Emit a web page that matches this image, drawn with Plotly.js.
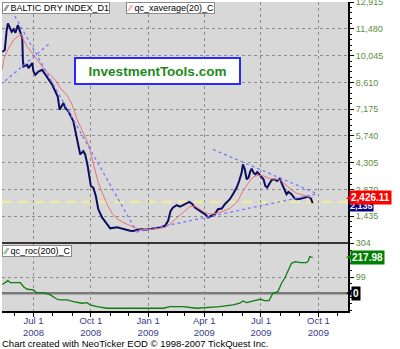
<!DOCTYPE html>
<html>
<head>
<meta charset="utf-8">
<script src="https://cdn.plot.ly/plotly-3.0.1.min.js"></script>
<style>html,body{margin:0;padding:0;background:#fff;}#chart{width:400px;height:349px;}</style>
</head>
<body>
<div id="chart"></div>
<script>
// ---- data ----
const bdiDates = ['2008-05-12','2008-05-16','2008-05-19','2008-05-21','2008-05-23','2008-05-27','2008-05-30','2008-06-02','2008-06-06','2008-06-11','2008-06-13','2008-06-14','2008-06-15','2008-06-21','2008-06-23','2008-06-29','2008-07-01','2008-07-04','2008-07-09','2008-07-15','2008-07-20','2008-07-25','2008-07-31','2008-08-05','2008-08-09','2008-08-12','2008-08-15','2008-08-18','2008-08-21','2008-08-26','2008-09-03','2008-09-09','2008-09-14','2008-09-19','2008-09-22','2008-09-26','2008-09-29','2008-10-01','2008-10-05','2008-10-09','2008-10-13','2008-10-19','2008-10-27','2008-11-01','2008-11-12','2008-11-17','2008-11-28','2008-12-03','2008-12-08','2008-12-19','2008-12-27','2009-01-04','2009-01-12','2009-01-20','2009-01-28','2009-02-02','2009-02-06','2009-02-10','2009-02-16','2009-02-21','2009-02-26','2009-03-04','2009-03-08','2009-03-13','2009-03-17','2009-03-25','2009-04-02','2009-04-07','2009-04-13','2009-04-18','2009-04-23','2009-04-29','2009-05-04','2009-05-12','2009-05-17','2009-05-23','2009-05-27','2009-05-31','2009-06-02','2009-06-05','2009-06-08','2009-06-11','2009-06-14','2009-06-16','2009-06-19','2009-06-22','2009-06-25','2009-06-30','2009-07-05','2009-07-08','2009-07-11','2009-07-14','2009-07-18','2009-07-23','2009-07-27','2009-07-31','2009-08-03','2009-08-07','2009-08-11','2009-08-14','2009-08-19','2009-08-24','2009-08-27','2009-09-04','2009-09-09','2009-09-15','2009-09-19','2009-09-22'];
const bdiVals = [10247,10354,11421,11779,11635,11330,11459,11277,11688,11245,10994,9820,9462,9553,9377,9644,9196,9020,9196,9286,9020,8753,8486,8128,7845,7152,7312,7509,7242,7061,6527,5550,4750,4926,4750,4126,3416,3058,2973,2524,1815,1372,1014,785,838,785,710,656,640,747,710,747,785,838,923,1190,1724,1905,2028,1948,2028,2135,2204,2081,1905,1724,1548,1372,1457,1548,1815,1852,2081,2348,2615,2973,3325,3773,4216,3949,3416,3506,3859,3987,3773,3683,3805,3592,3416,3058,2973,3149,3378,3416,3325,3453,3240,2882,2615,2738,2615,2386,2348,2386,2439,2492,2386,2135];

const avgDates = ['2008-05-12','2008-05-14','2008-05-22','2008-05-30','2008-06-07','2008-06-11','2008-06-15','2008-06-21','2008-06-29','2008-07-09','2008-07-17','2008-07-25','2008-08-05','2008-08-13','2008-08-24','2008-09-01','2008-09-09','2008-09-19','2008-09-27','2008-10-02','2008-10-08','2008-10-13','2008-10-19','2008-10-27','2008-11-04','2008-11-12','2008-11-22','2008-12-03','2008-12-14','2008-12-24','2009-01-04','2009-01-12','2009-01-20','2009-01-28','2009-02-05','2009-02-13','2009-02-21','2009-03-01','2009-03-09','2009-03-17','2009-03-25','2009-04-02','2009-04-10','2009-04-18','2009-04-29','2009-05-12','2009-05-25','2009-06-02','2009-06-11','2009-06-19','2009-06-27','2009-07-05','2009-07-15','2009-07-26','2009-08-03','2009-08-11','2009-08-19','2009-08-27','2009-09-07','2009-09-15','2009-09-22'];
const avgVals = [9286,9820,10445,10887,11101,11208,10887,10530,10178,9729,9377,9110,8753,8310,7925,7418,6618,5908,5284,4659,3949,3240,2706,2081,1601,1308,1094,923,785,710,710,747,785,838,1014,1281,1494,1724,1959,1975,1815,1638,1548,1574,1670,1852,2258,2791,3240,3560,3629,3592,3453,3416,3325,3058,2845,2669,2562,2492,2426.11];

const rocDates = ['2008-05-12','2008-05-21','2008-05-25','2008-06-10','2008-06-15','2008-06-21','2008-07-01','2008-07-06','2008-07-17','2008-07-28','2008-08-08','2008-08-13','2008-08-24','2008-09-03','2008-09-17','2008-09-25','2008-09-30','2008-10-11','2008-10-27','2008-11-12','2008-11-28','2008-12-19','2009-01-09','2009-01-25','2009-02-05','2009-02-26','2009-03-20','2009-04-05','2009-04-26','2009-05-17','2009-05-28','2009-06-02','2009-06-08','2009-06-19','2009-06-30','2009-07-07','2009-07-14','2009-07-20','2009-07-28','2009-08-03','2009-08-08','2009-08-14','2009-08-19','2009-08-25','2009-09-02','2009-09-12','2009-09-15','2009-09-17','2009-09-22'];
const rocVals = [53.5,76.6,64.4,64.4,40.1,24.3,20.1,3.6,3.6,-10.3,-36.5,-40.7,-40.7,-51.1,-60.8,-57.2,-71.1,-81.5,-91.2,-91.2,-95.5,-95.5,-95.5,-91.2,-81.5,-81.5,-91.2,-87.6,-81.5,-71.1,-60.8,-46.8,-57.2,-46.8,-36.5,-45,-45,0,9.7,60.8,91.2,141.7,182.4,192.1,186,186,198.2,222.5,217.98];

// trend lines drawn on the chart (start / end)
const trendDates = [['2008-06-01','2008-12-13'],['2008-05-09','2008-07-27'],['2008-12-13','2009-09-26'],['2009-04-15','2009-09-27']];
const trendVals  = [[12168,640],[8486,10711],[587,2615],[5017,2669]];

const refLevel = 2204;

const xTickVals = ['2008-07-01','2008-10-01','2009-01-01','2009-04-01','2009-07-01','2009-10-01'];
const xTickText = ['Jul 1<br>2008','Oct 1<br>2008','Jan 1<br>2009','Apr 1<br>2009','Jul 1<br>2009','Oct 1<br>2009'];
const yTickVals = [1435,2870,4305,5740,7175,8610,10045,11480,12915];
const yTickText = ['1,435','2,870','4,305','5,740','7,175','8,610','10,045','11,480','12,915'];
const y2TickVals = [99,304];
const y2TickText = ['99','304'];

// ---- layout helpers (pixel -> paper) ----
const L = 2, R = 348, T = 2, B = 311;
const PX = x => (x - L) / (R - L);
const PY = y => (B - y) / (B - T);
const split = PY(243);

const FONT = "Arial, 'Liberation Sans', sans-serif";
const gridC = '#8c8c8c';
const tickGreen = '#5a8f3a';

const traces = [
  {x: bdiDates, y: bdiVals, xaxis:'x', yaxis:'y', mode:'lines', line:{color:'#0c0c62', width:2}},
  {x: avgDates, y: avgVals, xaxis:'x', yaxis:'y', mode:'lines', line:{color:'#f07070', width:1}},
  {x: rocDates, y: rocVals, xaxis:'x', yaxis:'y2', mode:'lines', line:{color:'#0f7d0f', width:1.3}}
];
trendDates.forEach((d,i) => traces.push({x:d, y:trendVals[i], xaxis:'x', yaxis:'y', mode:'lines',
  line:{color:'#7878ff', width:1.3, dash:'dot'}}));

const last = a => a[a.length-1];

const layout = {
  width: 400, height: 349,
  margin: {l: L, r: 400 - R, t: T, b: 349 - B, pad: 0},
  paper_bgcolor: '#ffffff', plot_bgcolor: '#d8d8d8',
  showlegend: false,
  xaxis: {
    type:'date', range:['2008-05-11 12:00','2009-11-17 14:00'], anchor:'y2',
    tickmode:'array', tickvals:xTickVals, ticktext:xTickText,
    tickfont:{family:FONT, size:9.5, color:'#3a3a8e'},
    ticks:'outside', ticklen:4, tickcolor:'#000', ticklabelstandoff:-4,
    showgrid:true, gridcolor:gridC, griddash:'dot', gridwidth:1,
    showline:true, linecolor:'#000', linewidth:1.5, zeroline:false,
    minor:{dtick:'M1', tick0:'2008-05-01', ticks:'outside', ticklen:3, tickcolor:'#000', showgrid:false}
  },
  yaxis: {
    domain:[split, 1], range:[0, 12925], side:'right', anchor:'x',
    tickmode:'array', tickvals:yTickVals, ticktext:yTickText, ticklabeloverflow:'allow',
    tickfont:{family:FONT, size:9, color:tickGreen},
    ticks:'outside', ticklen:4, tickcolor:'#000',
    showgrid:true, gridcolor:gridC, griddash:'dot', gridwidth:1,
    showline:true, linecolor:'#000', linewidth:2, zeroline:false,
    minor:{dtick:287, tick0:0, ticks:'outside', ticklen:2, tickcolor:'#000', showgrid:false}
  },
  yaxis2: {
    domain:[0, split], range:[-108, 306], side:'right', anchor:'x',
    tickmode:'array', tickvals:y2TickVals, ticktext:y2TickText, ticklabeloverflow:'allow',
    tickfont:{family:FONT, size:9, color:tickGreen},
    ticks:'outside', ticklen:4, tickcolor:'#000',
    showgrid:true, gridcolor:gridC, griddash:'dot', gridwidth:1,
    showline:true, linecolor:'#000', linewidth:2, zeroline:false,
    minor:{dtick:41, tick0:99, ticks:'outside', ticklen:2, tickcolor:'#000', showgrid:false}
  },
  shapes: [
    {type:'line', xref:'paper', yref:'y', x0:0, x1:1, y0:refLevel, y1:refLevel, layer:'below',
     line:{color:'#efeba6', width:2.5, dash:'10px,6px'}},
    {type:'line', xref:'paper', yref:'y2', x0:0, x1:1, y0:0, y1:0, layer:'below',
     line:{color:'#7a7a7a', width:2.5}},
    {type:'line', xref:'paper', yref:'paper', x0:0, x1:1, y0:split, y1:split,
     line:{color:'#000', width:1.5}}
  ],
  annotations: [
    {xref:'paper', yref:'paper', x:PX(2), y:PY(2), xanchor:'left', yanchor:'top', showarrow:false,
     text:"<span style='color:#0c0c62'>⁄⁄</span> BALTIC DRY INDEX_D1", font:{family:FONT, size:9, color:'#000'},
     bgcolor:'#fff', bordercolor:'#8a8a8a', borderwidth:1, borderpad:0},
    {xref:'paper', yref:'paper', x:PX(126), y:PY(2), xanchor:'left', yanchor:'top', showarrow:false,
     text:"<span style='color:#f07070'>⁄⁄</span> qc_xaverage(20)_C", font:{family:FONT, size:9, color:'#000'},
     bgcolor:'#fff', bordercolor:'#8a8a8a', borderwidth:1, borderpad:0},
    {xref:'paper', yref:'paper', x:PX(2), y:PY(245), xanchor:'left', yanchor:'top', showarrow:false,
     text:"<span style='color:#0f7d0f'>⁄⁄</span> qc_roc(200)_C", font:{family:FONT, size:9, color:'#000'},
     bgcolor:'#fff', bordercolor:'#8a8a8a', borderwidth:1, borderpad:0},
    {xref:'paper', yref:'paper', x:PX(157.5), y:PY(71), xanchor:'center', yanchor:'middle', showarrow:false,
     text:'InvestmentTools.com', font:{family:FONT, size:13.5, color:'#1e8a1e', weight:'bold'},
     bgcolor:'#fff', bordercolor:'#2a2aff', borderwidth:2, borderpad:4, width:155, height:16},
    {xref:'paper', yref:'paper', x:PX(0), y:PY(343), xanchor:'left', yanchor:'middle', showarrow:false,
     text:'Chart created with NeoTicker EOD © 1998-2007 TickQuest Inc.', font:{family:FONT, size:9.5, color:'#000'}},
    // last-value labels on the right axis (blue one sits partly under the red one, as in the reference)
    {xref:'paper', yref:'y', x:PX(349), y:last(bdiVals)-150, xanchor:'left', yanchor:'middle', showarrow:false,
     text:'2,135', font:{family:FONT, size:9, color:'#fff', weight:'bold'}, bgcolor:'#000080', borderpad:0},
    {xref:'paper', yref:'y', x:PX(344), y:last(avgVals), xanchor:'left', yanchor:'middle', showarrow:false,
     text:'◀', font:{family:'DejaVu Sans', size:7, color:'#ff0000'}},
    {xref:'paper', yref:'y', x:PX(349), y:last(avgVals), xanchor:'left', yanchor:'middle', showarrow:false,
     text:'2,426.11', font:{family:FONT, size:10, color:'#fff', weight:'bold'}, bgcolor:'#ff0000', borderpad:1},
    {xref:'paper', yref:'y2', x:PX(344), y:last(rocVals), xanchor:'left', yanchor:'middle', showarrow:false,
     text:'◀', font:{family:'DejaVu Sans', size:7, color:'#008000'}},
    {xref:'paper', yref:'y2', x:PX(349.5), y:last(rocVals), xanchor:'left', yanchor:'middle', showarrow:false,
     text:'217.98', font:{family:FONT, size:10, color:'#fff', weight:'bold'}, bgcolor:'#008000', borderpad:1},
    {xref:'paper', yref:'y2', x:PX(344), y:0, xanchor:'left', yanchor:'middle', showarrow:false,
     text:'◀', font:{family:'DejaVu Sans', size:7, color:'#000'}},
    {xref:'paper', yref:'y2', x:PX(350.5), y:0, xanchor:'left', yanchor:'middle', showarrow:false,
     text:'0', font:{family:FONT, size:10, color:'#fff', weight:'bold'}, bgcolor:'#000', borderpad:1}
  ]
};

Plotly.newPlot('chart', traces, layout, {displayModeBar:false, staticPlot:true});
</script>
</body>
</html>
